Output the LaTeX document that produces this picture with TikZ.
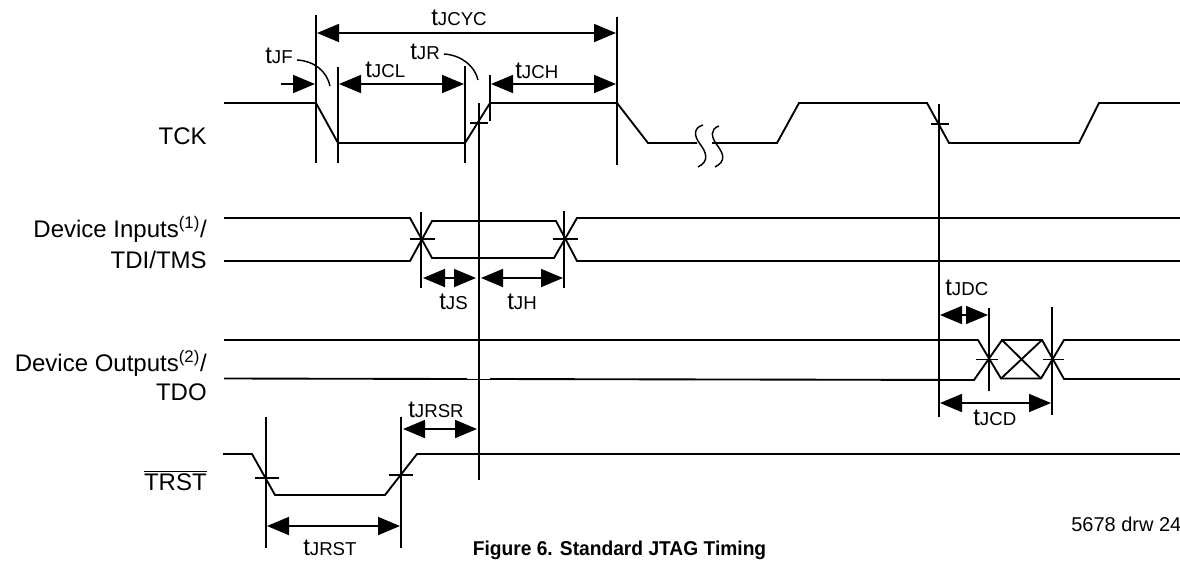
\documentclass[tikz,border=0pt]{standalone}
\usepackage{fontspec}
\setmainfont{Liberation Sans}
\newfontfamily\capfont[FakeStretch=0.96]{Liberation Sans}
\usetikzlibrary{arrows.meta}
\newcommand{\tlab}[1]{{\fontsize{18}{18}\selectfont t}{\fontsize{14}{14}\selectfont #1}}
\tikzset{
  sigline/.style={line width=1.4pt},
  guideline/.style={line width=1.1pt},
  tickline/.style={line width=1pt},
  spanarrow/.style={line width=1.3pt,{Triangle[length=16.5pt,width=13.5pt]}-{Triangle[length=16.5pt,width=13.5pt]}},
  timelab/.style={anchor=base west,inner sep=0pt},
  siglab/.style={anchor=base east,inner sep=0pt,font=\fontsize{18}{18}\selectfont},
}
\begin{document}
\begin{tikzpicture}[x=0.75pt,y=0.75pt,yscale=-1,xscale=1]
\useasboundingbox (0,0) rectangle (1180,561);

%TCK
\draw [sigline] (224,103) -- (316,103) -- (338,143) -- (465,143) -- (490,103) -- (617,103) -- (648,143) -- (697,143) ;
\draw [sigline] (712,143) -- (777,143) -- (799,103) -- (927,103) -- (949,143) -- (1079,143) -- (1099,103) -- (1180,103) ;
%Break
\draw [line width=1.1pt] (703,125) .. controls (693,128) and (694,136) .. (700,144) .. controls (706,152) and (710,161) .. (698,167) ;
\draw [line width=1.1pt] (719,126) .. controls (710,129) and (711,137) .. (717,145) .. controls (723,153) and (727,161) .. (715,167) ;
%Device Inputs
\draw [sigline] (224,218) -- (410,218) -- (432,258) -- (554,258) -- (577,218) -- (1180,218) ;
\draw [sigline] (224,261) -- (410,261) -- (432,221) -- (556,221) -- (577,261) -- (1180,261) ;
%Device Outputs
\draw [sigline] (224,340) -- (978,340) -- (1001,378.5) -- (1041,378.5) -- (1064,340) -- (1180,340) ;
\draw [sigline] (224,378.5) -- (467,379) ;
\draw [line width=0.5pt] (467,379) -- (490,379) ;
\draw [sigline] (490,379) -- (974,380) -- (1002,340) -- (1042,340) -- (1064,379) -- (1180,379) ;
\draw [sigline] (1002,340) -- (1041,378.5) ;
\draw [sigline] (1001,378.5) -- (1042,340) ;
%TRST
\draw [sigline] (223,454) -- (252,454) -- (275,495) -- (385,495) -- (417,454) -- (1180,454) ;

%Vertical guides
\draw [guideline] (316,15) -- (316,163) ;
\draw [guideline] (338,67) -- (338,163) ;
\draw [guideline] (465,66) -- (465,163) ;
\draw [guideline] (490,75) -- (490,121) ;
\draw [guideline] (617,17) -- (617,165) ;
\draw [guideline] (479,103) -- (479,480) ;
\draw [guideline] (939,104) -- (939,417) ;
\draw [guideline] (421,212) -- (421,288) ;
\draw [guideline] (564,211) -- (564,288) ;
\draw [guideline] (989,308) -- (989,391) ;
\draw [guideline] (1052,307) -- (1052,415) ;
\draw [guideline] (266,417) -- (266,548) ;
\draw [guideline] (401,417) -- (401,548) ;

%Ticks
\draw [tickline] (470,123) -- (488,123) ;
\draw [tickline] (931,124) -- (949,124) ;
\draw [tickline] (410,239) -- (435,239) ;
\draw [tickline] (553,239) -- (578,239) ;
\draw [tickline] (976,359.5) -- (998,359.5) ;
\draw [tickline] (1043,359.5) -- (1064,359.5) ;
\draw [tickline] (255,478) -- (279,478) ;
\draw [tickline] (389,475) -- (413,475) ;

%Span arrows
\draw [spanarrow] (317,33) -- (616,33) ;
\draw [spanarrow] (339,84) -- (464,84) ;
\draw [spanarrow] (491,84) -- (616,84) ;
\draw [spanarrow] (423,278) -- (476,278) ;
\draw [spanarrow] (481,278) -- (563,278) ;
\draw [spanarrow] (940,315) -- (988,315) ;
\draw [spanarrow] (940,403) -- (1051,403) ;
\draw [spanarrow] (403,429) -- (477,429) ;
\draw [spanarrow] (267,526) -- (400,526) ;
\draw [line width=1.3pt,-{Triangle[length=16.5pt,width=13.5pt]}] (281,84) -- (315,84) ;

%Leaders
\draw [guideline] (297,60) .. controls (315,61) and (327,72) .. (330,86) ;
\draw [guideline] (444,54) .. controls (461,55) and (475,66) .. (478,80) ;

% Text Node
\draw (431,25) node (tjcyc) [timelab] {\tlab{JCYC}};
\draw (265,63) node (tjf) [timelab] {\tlab{JF}};
\draw (365,77) node (tjcl) [timelab] {\tlab{JCL}};
\draw (410,59) node (tjr) [timelab] {\tlab{JR}};
\draw (515,78) node (tjch) [timelab] {\tlab{JCH}};
\draw (439,309) node (tjs) [timelab] {\tlab{JS}};
\draw (507,309) node (tjh) [timelab] {\tlab{JH}};
\draw (945,295) node (tjdc) [timelab] {\tlab{JDC}};
\draw (973,425) node (tjcd) [timelab] {\tlab{JCD}};
\draw (408,417) node (tjrsr) [timelab] {\tlab{JRSR}};
\draw (303,555) node (tjrst) [timelab] {\tlab{JRST}};
% Text Node
\draw (207,144) node (tck) [siglab] {TCK};
\draw (207,237) node (devin) [siglab] {Device Inputs\textsuperscript{(1)}/};
\draw (207,268) node (tdi) [siglab] {TDI/TMS};
\draw (207,371) node (devout) [siglab] {Device Outputs\textsuperscript{(2)}/};
\draw (207,400) node (tdo) [siglab] {TDO};
\draw (207,490) node (trst) [siglab] {$\overline{\mbox{TRST}}$};
% Text Node
\draw (619.5,555) node (cap) [anchor=base,inner sep=0pt,font=\capfont\bfseries\fontsize{15}{15}\selectfont] {Figure 6. Standard JTAG Timing};
\draw (1071,531) node (drw) [anchor=base west,inner sep=0pt,font=\fontsize{15}{15}\selectfont] {5678 drw 24};

\end{tikzpicture}
\end{document}
